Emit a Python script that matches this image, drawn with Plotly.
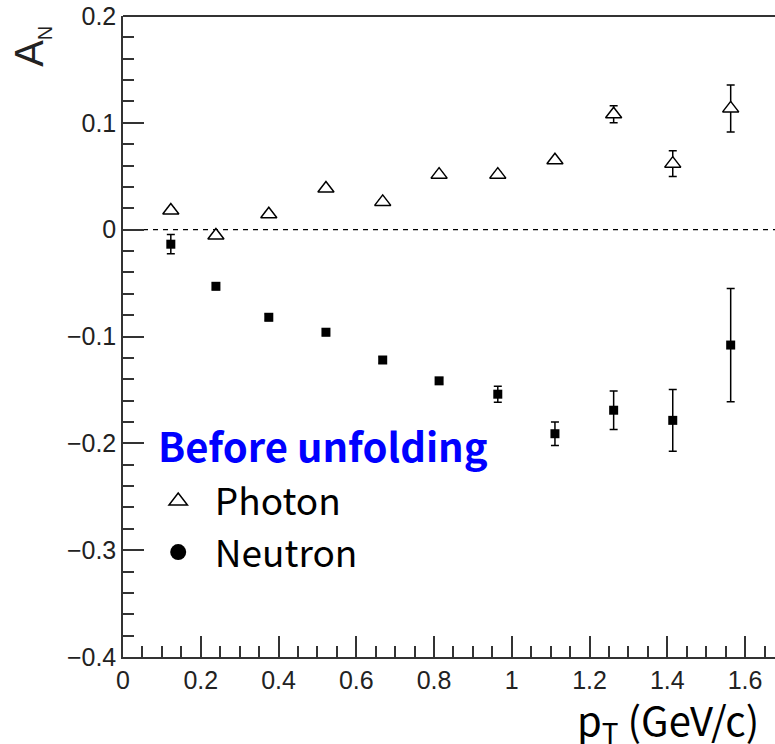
import plotly.graph_objects as go

# ---- data ----
pt = [0.123, 0.239, 0.375, 0.522, 0.668, 0.813, 0.964, 1.111, 1.262, 1.414, 1.563]
photon = [0.018, -0.0055, 0.0145, 0.0385, 0.026, 0.0515, 0.0515, 0.065, 0.108, 0.0618, 0.1135]
photon_err = [0.002, 0.002, 0.002, 0.002, 0.002, 0.002, 0.002, 0.002, 0.008, 0.012, 0.022]
neutron = [-0.0136, -0.053, -0.082, -0.096, -0.122, -0.1415, -0.154, -0.191, -0.169, -0.1785, -0.108]
neutron_err = [0.009, 0.003, 0.003, 0.003, 0.003, 0.003, 0.0075, 0.011, 0.018, 0.029, 0.053]

legend_title = "Before unfolding"
series_names = ["Photon", "Neutron"]
x_title = "p<sub>T</sub> (GeV/c)"
y_title = "A<sub><span style='font-size:20px'>N</span></sub>"

AX = "#333333"
TICKFONT = dict(family="Liberation Sans, Arial, sans-serif", size=25, color="#222222")
KFONT = "Noto Sans CJK KR, Noto Sans, sans-serif"

fig = go.Figure()

# data traces
fig.add_trace(go.Scatter(
    x=pt, y=photon, mode="markers", showlegend=False,
    marker=dict(symbol="triangle-up", size=14, color="white",
                line=dict(color="black", width=1.5)),
    error_y=dict(type="data", array=photon_err, width=4, thickness=1.5, color="black"),
))
fig.add_trace(go.Scatter(
    x=pt, y=neutron, mode="markers", showlegend=False,
    marker=dict(symbol="square", size=9, color="black"),
    error_y=dict(type="data", array=neutron_err, width=4, thickness=1.5, color="black"),
))

# legend entries
nb = "\u00a0\u00a0"
fig.add_trace(go.Scatter(
    x=[None], y=[None], mode="markers", name=nb + series_names[0], legendgroup="a",
    marker=dict(symbol="triangle-up-open", size=16, color="black", line=dict(width=1.5)),
))
fig.add_trace(go.Scatter(
    x=[None], y=[None], mode="markers", name=nb + series_names[1], legendgroup="b",
    marker=dict(symbol="circle", size=16, color="black"),
))

# zero reference line and top frame
fig.add_shape(type="line", xref="paper", x0=0, x1=1, yref="y", y0=0, y1=0,
              line=dict(color="black", width=1.2, dash="5px,5px"), layer="below")
fig.add_shape(type="line", xref="paper", x0=0, x1=1, yref="paper", y0=1, y1=1,
              line=dict(color=AX, width=2))

# axis titles
fig.add_annotation(text=y_title, xref="paper", yref="paper", x=-0.141, y=0.952,
                   xanchor="center", yanchor="middle", textangle=-90, showarrow=False,
                   font=dict(family="Liberation Sans, Arial, sans-serif", size=40, color="#222222"))
fig.add_annotation(text=x_title, xref="paper", yref="paper", x=0.836, y=-0.100,
                   xanchor="center", yanchor="middle", showarrow=False,
                   font=dict(family=KFONT, size=40, color="black"))
# legend header
fig.add_annotation(text="<b>" + legend_title + "</b>", xref="paper", yref="paper",
                   x=0.050, y=0.3300, xanchor="left", yanchor="middle", showarrow=False,
                   font=dict(family=KFONT, size=40, color="#0000ff"))

fig.update_layout(
    width=775, height=744, autosize=False,
    margin=dict(l=123, r=0, t=16, b=87, pad=0),
    paper_bgcolor="white", plot_bgcolor="white",
    legend=dict(x=0.0540, y=0.291, xanchor="left", yanchor="top",
                bgcolor="rgba(0,0,0,0)", borderwidth=0, tracegroupgap=0,
                font=dict(family=KFONT, size=37, color="black")),
    xaxis=dict(range=[0, 1.677], tick0=0, dtick=0.2, showgrid=False, zeroline=False,
               showline=True, linecolor=AX, linewidth=1.5,
               ticks="inside", ticklen=21, tickwidth=1.5, tickcolor=AX, tickfont=TICKFONT,
               minor=dict(ticks="inside", ticklen=11, dtick=0.05, tickwidth=1.5,
                          tickcolor=AX, showgrid=False)),
    yaxis=dict(range=[-0.4, 0.2], tick0=0, dtick=0.1, showgrid=False, zeroline=False,
               showline=True, linecolor=AX, linewidth=1.5,
               ticks="inside", ticklen=21, tickwidth=1.5, tickcolor=AX, tickfont=TICKFONT,
               minor=dict(ticks="inside", ticklen=11, dtick=0.02, tickwidth=1.5,
                          tickcolor=AX, showgrid=False)),
)

fig.write_html("out.html")
